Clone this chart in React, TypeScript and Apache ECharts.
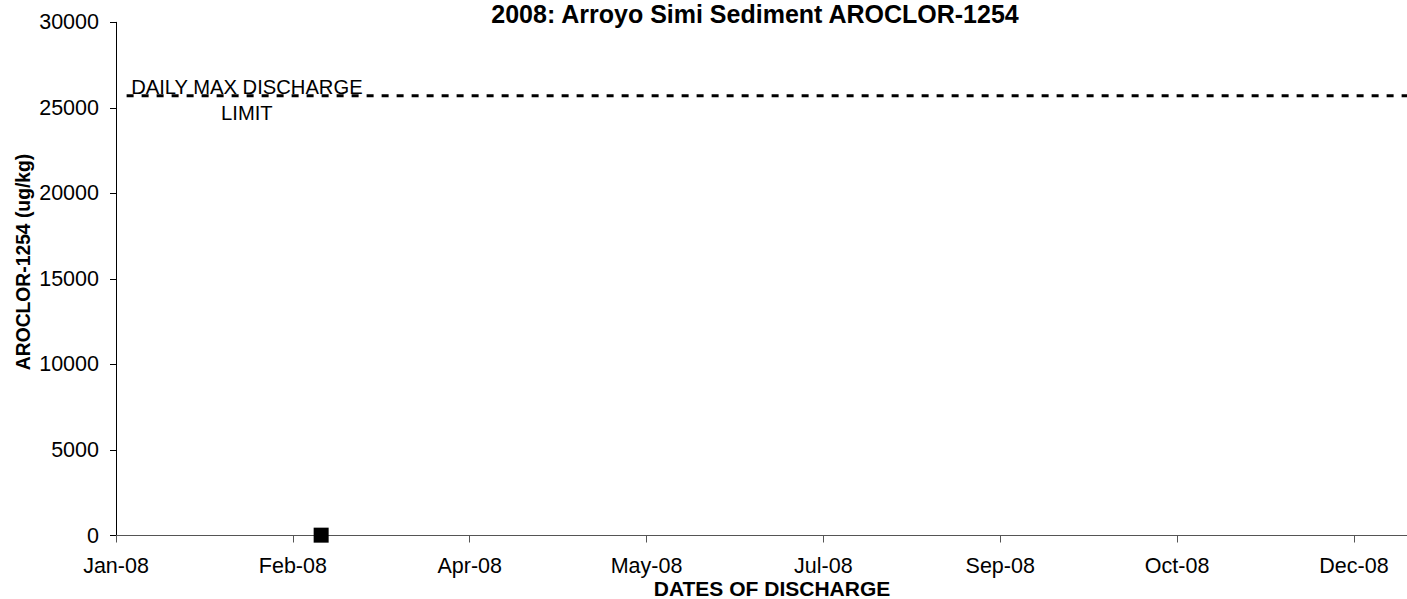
import React, { useEffect, useRef } from "react";
import * as echarts from "echarts";

// ---- data ----
const sampleDates = ["2008-02-28"];
const aroclorValues = [20];
const limitDates = ["2008-01-04", "2008-12-31"];
const limitValue = 25700;
const limitLabelDate = "2008-02-07";
const limitLabelText = ["DAILY MAX DISCHARGE", "LIMIT"];
const yTicks = [0, 5000, 10000, 15000, 20000, 25000, 30000];
const axisStartDate = "2008-01-01";
const axisEndDate = "2008-12-31";
const tickStepDays = 50;
const titleText = "2008: Arroyo Simi Sediment AROCLOR-1254";
const xAxisTitle = "DATES OF DISCHARGE";
const yAxisTitle = "AROCLOR-1254 (ug/kg)";

const MONTHS = ["Jan", "Feb", "Mar", "Apr", "May", "Jun", "Jul", "Aug", "Sep", "Oct", "Nov", "Dec"];
const DAY = 86400000;
const base = Date.parse(axisStartDate + "T00:00:00Z");
const toDay = (s: string) => Math.round((Date.parse(s + "T00:00:00Z") - base) / DAY);
const fmtDay = (d: number) => {
  const dt = new Date(base + d * DAY);
  return MONTHS[dt.getUTCMonth()] + "-" + String(dt.getUTCFullYear()).slice(2);
};

const FONT = "'Liberation Sans', Arial, sans-serif";

export default function App() {
  const ref = useRef<HTMLDivElement>(null);
  useEffect(() => {
    if (!ref.current) return;
    const chart = echarts.init(ref.current, null, { renderer: "svg" });
    const option: any = {
      animation: false,
      backgroundColor: "#ffffff",
      textStyle: { fontFamily: FONT },
      grid: { left: 116, top: 22.3, width: 1295, height: 513.2, containLabel: false },
      title: {
        text: titleText,
        left: 755,
        textAlign: "center",
        top: 1,
        padding: 0,
        textStyle: { fontFamily: FONT, fontSize: 25, fontWeight: "bold", color: "#000" },
      },
      graphic: [
        {
          type: "text",
          x: 23,
          y: 262,
          rotation: Math.PI / 2,
          style: {
            text: yAxisTitle,
            fontFamily: FONT,
            fontSize: 19.3,
            fontWeight: "bold",
            fill: "#000",
            align: "center",
            verticalAlign: "middle",
          },
        },
        {
          type: "text",
          x: 772,
          y: 588,
          style: {
            text: xAxisTitle,
            fontFamily: FONT,
            fontSize: 21,
            fontWeight: "bold",
            fill: "#000",
            align: "center",
            verticalAlign: "middle",
          },
        },
      ],
      xAxis: {
        type: "value",
        min: 0,
        max: toDay(axisEndDate),
        interval: tickStepDays,
        splitLine: { show: false },
        axisLine: { show: true, onZero: false, lineStyle: { color: "#555", width: 1 } },
        axisTick: { show: true, length: 7, lineStyle: { color: "#555" } },
        axisLabel: {
          show: true,
          showMaxLabel: false,
          formatter: (v: number) => fmtDay(v),
          color: "#000",
          fontFamily: FONT,
          fontSize: 21.5,
          margin: 19,
        },
      },
      yAxis: {
        type: "value",
        min: 0,
        max: yTicks[yTicks.length - 1],
        interval: yTicks[1] - yTicks[0],
        splitLine: { show: false },
        axisLine: { show: true, lineStyle: { color: "#000", width: 1 } },
        axisTick: { show: true, length: 6, lineStyle: { color: "#000" } },
        axisLabel: {
          color: "#000",
          fontFamily: FONT,
          fontSize: 21.5,
          margin: 17,
          formatter: (v: number) => String(v),
        },
      },
      series: [
        {
          type: "line",
          name: "limit",
          data: limitDates.map((d) => [toDay(d), limitValue]),
          symbol: "none",
          lineStyle: { color: "#000", width: 3, type: [7, 8] },
          silent: true,
          z: 3,
        },
        {
          type: "scatter",
          name: "limitLabel",
          data: [[toDay(limitLabelDate), limitValue]],
          symbolSize: 0,
          silent: true,
          itemStyle: { opacity: 1 },
          label: {
            show: true,
            position: "inside",
            offset: [0, 4],
            formatter: limitLabelText.join("\n"),
            fontFamily: FONT,
            fontSize: 20.2,
            lineHeight: 25.5,
            color: "#000",
            textBorderWidth: 0,
            align: "center",
          },
          z: 4,
        },
        {
          type: "scatter",
          name: "AROCLOR-1254",
          data: sampleDates.map((d, i) => [toDay(d), aroclorValues[i]]),
          symbol: "rect",
          symbolSize: 15,
          itemStyle: { color: "#000", opacity: 1 },
          z: 5,
        },
      ],
    };
    chart.setOption(option);
    return () => chart.dispose();
  }, []);
  return (
    <div
      ref={ref}
      style={{ position: "absolute", left: 0, top: 0, width: 1407, height: 599, background: "#fff" }}
    />
  );
}
